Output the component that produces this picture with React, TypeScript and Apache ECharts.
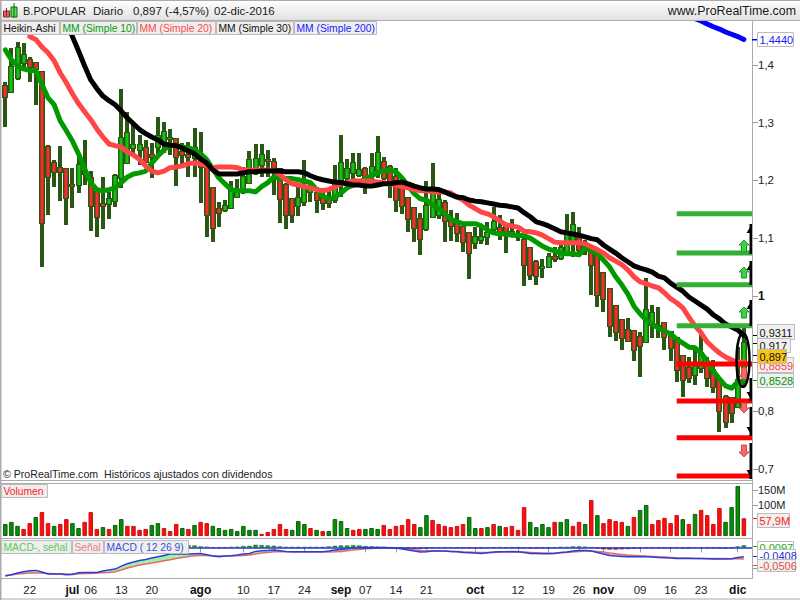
import React, { useEffect, useRef } from "react";
import * as echarts from "echarts";

const FONT = '"Liberation Sans", Arial, sans-serif';

const monthDays: [string, number[]][] = [
  ["06", [16, 17, 20, 21, 22, 23, 24, 27, 28, 29, 30]],
  ["07", [1, 4, 5, 6, 7, 8, 11, 12, 13, 14, 15, 18, 19, 20, 21, 22, 25, 26, 27, 28, 29]],
  ["08", [1, 2, 3, 4, 5, 8, 9, 10, 11, 12, 15, 16, 17, 18, 19, 22, 23, 24, 25, 26, 29, 30, 31]],
  ["09", [1, 2, 5, 6, 7, 8, 9, 12, 13, 14, 15, 16, 19, 20, 21, 22, 23, 26, 27, 28, 29, 30]],
  ["10", [3, 4, 5, 6, 7, 10, 11, 12, 13, 14, 17, 18, 19, 20, 21, 24, 25, 26, 27, 28, 31]],
  ["11", [1, 2, 3, 4, 7, 8, 9, 10, 11, 14, 15, 16, 17, 18, 21, 22, 23, 24, 25, 28, 29, 30]],
  ["12", [1, 2]],
];
const categories: string[] = monthDays.flatMap(([m, ds]) =>
  ds.map((d) => `2016-${m}-${String(d).padStart(2, "0")}`)
);
categories.push("");

const tickDates = ["2016-06-22", "2016-07-01", "2016-07-06", "2016-07-13", "2016-07-20", "2016-08-01", "2016-08-10", "2016-08-17", "2016-08-24", "2016-09-01", "2016-09-07", "2016-09-14", "2016-09-21", "2016-10-03", "2016-10-12", "2016-10-19", "2016-10-26", "2016-11-01", "2016-11-09", "2016-11-16", "2016-11-23", "2016-12-01"];
const tickLabels = ["22", "jul", "06", "13", "20", "ago", "10", "17", "24", "sep", "07", "14", "21", "oct", "12", "19", "26", "nov", "09", "16", "23", "dic"];

const haOpen = [
  1.364, 1.353, 1.378, 1.404, 1.409, 1.404, 1.388, 1.258, 1.230, 1.222,
  1.220, 1.192, 1.192, 1.211, 1.204, 1.180, 1.159, 1.159, 1.164, 1.204,
  1.230, 1.256, 1.253, 1.256, 1.244, 1.258, 1.267, 1.272, 1.272, 1.249,
  1.244, 1.239, 1.244, 1.222, 1.187, 1.151, 1.149, 1.152, 1.171, 1.185,
  1.196, 1.222, 1.227, 1.236, 1.232, 1.220, 1.192, 1.168, 1.156, 1.163,
  1.180, 1.178, 1.171, 1.166, 1.166, 1.201, 1.204, 1.213, 1.209, 1.220,
  1.213, 1.218, 1.232, 1.223, 1.206, 1.187, 1.170, 1.152, 1.133, 1.116,
  1.137, 1.140, 1.161, 1.132, 1.126, 1.119, 1.109, 1.092, 1.097, 1.102,
  1.116, 1.118, 1.119, 1.111, 1.102, 1.097, 1.083, 1.059, 1.048, 1.050,
  1.067, 1.066, 1.076, 1.092, 1.102, 1.092, 1.080, 1.071, 1.040, 1.012,
  0.982, 0.958, 0.941, 0.939, 0.929, 0.920, 0.950, 0.944, 0.953, 0.937,
  0.927, 0.896, 0.875, 0.863, 0.875, 0.880, 0.872, 0.854, 0.825, 0.823,
  0.807, 0.875,
];
const haClose = [
  1.345, 1.397, 1.430, 1.417, 1.397, 1.392, 1.126, 1.206, 1.215, 1.215,
  1.170, 1.190, 1.227, 1.216, 1.156, 1.137, 1.156, 1.168, 1.208, 1.274,
  1.282, 1.261, 1.261, 1.232, 1.241, 1.277, 1.284, 1.274, 1.241, 1.244,
  1.241, 1.256, 1.223, 1.140, 1.118, 1.144, 1.156, 1.182, 1.178, 1.206,
  1.236, 1.237, 1.244, 1.234, 1.222, 1.168, 1.140, 1.140, 1.170, 1.187,
  1.189, 1.166, 1.161, 1.161, 1.196, 1.230, 1.220, 1.230, 1.218, 1.203,
  1.223, 1.248, 1.204, 1.196, 1.166, 1.156, 1.133, 1.118, 1.099, 1.156,
  1.178, 1.166, 1.130, 1.121, 1.109, 1.093, 1.074, 1.102, 1.102, 1.109,
  1.128, 1.105, 1.105, 1.105, 1.107, 1.054, 1.036, 1.035, 1.050, 1.067,
  1.064, 1.083, 1.105, 1.123, 1.080, 1.080, 1.054, 1.002, 0.995, 0.948,
  0.937, 0.927, 0.922, 0.906, 0.913, 0.976, 0.970, 0.948, 0.929, 0.910,
  0.872, 0.854, 0.858, 0.884, 0.901, 0.858, 0.842, 0.801, 0.781, 0.797,
  0.854, 0.918,
];
const haLow = [
  1.293, 1.352, 1.374, 1.392, 1.371, 1.331, 1.050, 1.140, 1.189, 1.164,
  1.123, 1.152, 1.178, 1.192, 1.112, 1.102, 1.116, 1.133, 1.154, 1.187,
  1.230, 1.244, 1.227, 1.230, 1.204, 1.241, 1.248, 1.244, 1.190, 1.227,
  1.206, 1.206, 1.161, 1.102, 1.093, 1.119, 1.145, 1.152, 1.170, 1.177,
  1.196, 1.209, 1.206, 1.206, 1.175, 1.126, 1.116, 1.126, 1.138, 1.157,
  1.163, 1.144, 1.149, 1.152, 1.161, 1.171, 1.184, 1.192, 1.206, 1.177,
  1.196, 1.204, 1.201, 1.170, 1.145, 1.142, 1.111, 1.093, 1.071, 1.112,
  1.135, 1.133, 1.093, 1.095, 1.093, 1.076, 1.029, 1.081, 1.090, 1.088,
  1.105, 1.097, 1.074, 1.102, 1.095, 1.017, 1.028, 1.019, 1.031, 1.048,
  1.059, 1.062, 1.071, 1.067, 1.074, 1.071, 1.002, 0.981, 0.972, 0.929,
  0.922, 0.906, 0.920, 0.887, 0.859, 0.918, 0.927, 0.927, 0.906, 0.887,
  0.851, 0.825, 0.849, 0.846, 0.866, 0.842, 0.832, 0.764, 0.771, 0.780,
  0.807, 0.842,
];
const haHigh = [
  1.371, 1.430, 1.440, 1.438, 1.414, 1.404, 1.388, 1.261, 1.236, 1.260,
  1.222, 1.222, 1.244, 1.270, 1.216, 1.184, 1.206, 1.180, 1.211, 1.359,
  1.319, 1.300, 1.279, 1.270, 1.265, 1.310, 1.301, 1.289, 1.274, 1.265,
  1.267, 1.291, 1.284, 1.227, 1.189, 1.163, 1.166, 1.199, 1.203, 1.223,
  1.251, 1.263, 1.263, 1.253, 1.239, 1.222, 1.196, 1.170, 1.192, 1.236,
  1.197, 1.189, 1.187, 1.187, 1.227, 1.279, 1.237, 1.248, 1.248, 1.223,
  1.248, 1.277, 1.241, 1.227, 1.222, 1.197, 1.171, 1.154, 1.144, 1.199,
  1.230, 1.178, 1.166, 1.149, 1.144, 1.119, 1.111, 1.119, 1.119, 1.128,
  1.154, 1.140, 1.119, 1.133, 1.114, 1.102, 1.085, 1.062, 1.064, 1.074,
  1.085, 1.093, 1.142, 1.145, 1.119, 1.097, 1.083, 1.074, 1.041, 1.014,
  0.984, 0.960, 0.962, 0.941, 0.937, 1.031, 0.984, 0.981, 0.955, 0.939,
  0.929, 0.898, 0.894, 0.906, 0.932, 0.894, 0.889, 0.858, 0.828, 0.825,
  0.911, 0.944,
];

const mm10 = [
  1.426, 1.409, 1.398, 1.393, 1.390, 1.390, 1.366, 1.343, 1.331, 1.303,
  1.286, 1.268, 1.246, 1.220, 1.196, 1.184, 1.182, 1.184, 1.187, 1.196,
  1.206, 1.211, 1.213, 1.216, 1.230, 1.242, 1.253, 1.261, 1.260, 1.258,
  1.256, 1.253, 1.246, 1.236, 1.220, 1.204, 1.194, 1.184, 1.182, 1.182,
  1.182, 1.180, 1.189, 1.196, 1.206, 1.203, 1.203, 1.203, 1.201, 1.199,
  1.196, 1.184, 1.173, 1.168, 1.171, 1.178, 1.187, 1.192, 1.197, 1.203,
  1.208, 1.213, 1.216, 1.218, 1.215, 1.204, 1.190, 1.177, 1.168, 1.166,
  1.157, 1.151, 1.142, 1.133, 1.128, 1.125, 1.125, 1.125, 1.121, 1.114,
  1.109, 1.107, 1.107, 1.105, 1.105, 1.104, 1.100, 1.093, 1.086, 1.081,
  1.078, 1.074, 1.073, 1.073, 1.071, 1.083, 1.078, 1.073, 1.062, 1.050,
  1.033, 1.019, 1.003, 0.982, 0.969, 0.958, 0.951, 0.944, 0.939, 0.934,
  0.925, 0.918, 0.911, 0.910, 0.901, 0.887, 0.870, 0.856, 0.844, 0.840,
  0.851, 0.8528,
];
const mm20 = [
  null, null, null, null, 1.449, 1.444, 1.431, 1.421, 1.407, 1.386,
  1.369, 1.350, 1.333, 1.319, 1.305, 1.289, 1.275, 1.263, 1.260, 1.258,
  1.249, 1.244, 1.236, 1.225, 1.216, 1.213, 1.216, 1.222, 1.223, 1.225,
  1.229, 1.230, 1.229, 1.225, 1.222, 1.223, 1.223, 1.223, 1.222, 1.218,
  1.218, 1.218, 1.218, 1.218, 1.216, 1.210, 1.201, 1.194, 1.192, 1.189,
  1.187, 1.184, 1.182, 1.184, 1.189, 1.194, 1.196, 1.199, 1.199, 1.199,
  1.199, 1.197, 1.196, 1.194, 1.192, 1.189, 1.187, 1.184, 1.182, 1.182,
  1.180, 1.180, 1.180, 1.178, 1.171, 1.166, 1.157, 1.151, 1.145, 1.142,
  1.137, 1.130, 1.123, 1.121, 1.119, 1.112, 1.111, 1.109, 1.105, 1.099,
  1.093, 1.092, 1.092, 1.092, 1.092, 1.090, 1.085, 1.080, 1.074, 1.066,
  1.060, 1.054, 1.045, 1.033, 1.024, 1.021, 1.017, 1.014, 1.005, 0.995,
  0.988, 0.979, 0.963, 0.948, 0.936, 0.920, 0.910, 0.901, 0.894, 0.889,
  0.885, 0.8859,
];
const mm30 = [
  null, null, null, null, null, null, null, null, null, null,
  1.475, 1.449, 1.424, 1.398, 1.374, 1.359, 1.346, 1.338, 1.331, 1.320,
  1.308, 1.298, 1.288, 1.281, 1.275, 1.270, 1.263, 1.261, 1.260, 1.256,
  1.251, 1.246, 1.237, 1.230, 1.218, 1.211, 1.211, 1.211, 1.211, 1.213,
  1.215, 1.215, 1.216, 1.216, 1.216, 1.216, 1.215, 1.215, 1.215, 1.213,
  1.208, 1.204, 1.201, 1.199, 1.197, 1.196, 1.194, 1.192, 1.192, 1.190,
  1.190, 1.192, 1.194, 1.194, 1.196, 1.197, 1.194, 1.190, 1.187, 1.185,
  1.185, 1.184, 1.180, 1.175, 1.171, 1.170, 1.166, 1.164, 1.163, 1.161,
  1.159, 1.157, 1.156, 1.154, 1.152, 1.144, 1.137, 1.128, 1.125, 1.121,
  1.116, 1.111, 1.109, 1.107, 1.105, 1.102, 1.099, 1.097, 1.088, 1.081,
  1.074, 1.066, 1.059, 1.052, 1.048, 1.045, 1.041, 1.034, 1.031, 1.022,
  1.015, 1.008, 0.998, 0.991, 0.984, 0.977, 0.967, 0.960, 0.951, 0.946,
  0.941, 0.9311,
];
const mm200Tail = [1.480, 1.476, 1.471, 1.466, 1.462, 1.457, 1.453, 1.449, 1.444];
const mm200 = [...new Array(122 - mm200Tail.length).fill(null), ...mm200Tail];

const upLevels = [1.142, 1.074, 1.019, 0.948];
const downLevels = [0.882, 0.818, 0.754, 0.688];

const volume = [
  39, 46, 33, 23, 42, 62, 78, 42, 33, 39,
  55, 42, 26, 46, 78, 23, 29, 23, 36, 55,
  33, 33, 20, 23, 36, 42, 26, 16, 39, 26,
  23, 36, 46, 42, 33, 26, 20, 23, 16, 33,
  20, 20, 7, 13, 23, 39, 23, 20, 49, 39,
  26, 20, 16, 16, 55, 49, 26, 20, 23, 23,
  26, 23, 36, 23, 33, 36, 55, 39, 29, 68,
  52, 39, 33, 29, 33, 39, 62, 26, 26, 29,
  39, 33, 29, 33, 20, 94, 46, 29, 39, 29,
  46, 46, 55, 33, 46, 39, 117, 68, 42, 55,
  49, 46, 33, 62, 85, 101, 39, 52, 59, 42,
  68, 55, 39, 72, 85, 68, 39, 91, 46, 94,
  163, 57.9,
];
const volumeUp = [
  1, 1, 1, 0, 0, 1, 0, 0, 1, 0,
  0, 1, 1, 0, 0, 0, 1, 0, 1, 1,
  0, 0, 0, 0, 1, 1, 0, 0, 0, 1,
  0, 1, 0, 0, 1, 1, 1, 1, 1, 1,
  1, 1, 0, 0, 0, 0, 0, 1, 1, 1,
  0, 1, 0, 1, 1, 1, 1, 0, 0, 1,
  1, 1, 0, 0, 0, 0, 0, 0, 1, 1,
  0, 0, 0, 0, 0, 0, 1, 1, 0, 1,
  0, 1, 0, 0, 0, 0, 1, 1, 1, 1,
  0, 1, 1, 0, 0, 1, 0, 1, 0, 0,
  0, 0, 1, 0, 1, 1, 0, 0, 0, 0,
  0, 1, 0, 1, 0, 0, 0, 0, 1, 1,
  1, 0,
];

const macdLine = [
  -0.1256, -0.1197, -0.1124, -0.1066, -0.1022, -0.1007, -0.108, -0.1168, -0.1168, -0.1168,
  -0.1197, -0.1183, -0.111, -0.1095, -0.1095, -0.1095, -0.1037, -0.0993, -0.0949, -0.0818,
  -0.0715, -0.0642, -0.0569, -0.0526, -0.0467, -0.0409, -0.035, -0.0292, -0.0292, -0.0292,
  -0.0292, -0.0277, -0.0263, -0.0321, -0.038, -0.0409, -0.038, -0.0365, -0.0336, -0.0292,
  -0.0263, -0.0175, -0.0146, -0.0131, -0.0117, -0.0146, -0.0175, -0.019, -0.019, -0.019,
  -0.019, -0.019, -0.019, -0.0161, -0.0117, -0.0088, -0.0058, -0.0015, -0.0005, -0.0005,
  -0.0005, -0.0005, -0.0005, -0.0015, -0.0029, -0.0073, -0.0117, -0.0161, -0.0204, -0.019,
  -0.0161, -0.0161, -0.0161, -0.0175, -0.019, -0.0219, -0.0234, -0.0248, -0.0263, -0.0234,
  -0.0204, -0.019, -0.019, -0.0175, -0.019, -0.0219, -0.0263, -0.0263, -0.0277, -0.0277,
  -0.0263, -0.0219, -0.0204, -0.0161, -0.0131, -0.0131, -0.0161, -0.0219, -0.0292, -0.035,
  -0.038, -0.0394, -0.0409, -0.0409, -0.0409, -0.0409, -0.0423, -0.0438, -0.0453, -0.0467,
  -0.0482, -0.0482, -0.0482, -0.0482, -0.0482, -0.0496, -0.0511, -0.0511, -0.0511, -0.0496,
  -0.0438, -0.0408,
];
const signalLine = [
  -0.1226, -0.1197, -0.1168, -0.1139, -0.1124, -0.1124, -0.1124, -0.1139, -0.1153, -0.1153,
  -0.1168, -0.1168, -0.1153, -0.1139, -0.1139, -0.1124, -0.111, -0.1095, -0.1066, -0.0993,
  -0.0905, -0.0832, -0.0774, -0.073, -0.0686, -0.0642, -0.0584, -0.054, -0.0482, -0.0438,
  -0.0394, -0.0365, -0.035, -0.035, -0.0365, -0.038, -0.038, -0.038, -0.0365, -0.035,
  -0.0336, -0.0292, -0.0248, -0.0219, -0.019, -0.019, -0.019, -0.0204, -0.0204, -0.0204,
  -0.0204, -0.0204, -0.0204, -0.0204, -0.019, -0.0175, -0.0146, -0.0117, -0.0088, -0.0058,
  -0.0044, -0.0029, -0.0015, -0.0015, -0.0015, -0.0029, -0.0058, -0.0102, -0.0131, -0.0146,
  -0.0161, -0.0161, -0.0161, -0.0175, -0.0175, -0.019, -0.0204, -0.0219, -0.0219, -0.0219,
  -0.0219, -0.0204, -0.0204, -0.0204, -0.0204, -0.0204, -0.0219, -0.0234, -0.0248, -0.0248,
  -0.0248, -0.0234, -0.0219, -0.0204, -0.0175, -0.0161, -0.0161, -0.0175, -0.0204, -0.0248,
  -0.0277, -0.0307, -0.0336, -0.035, -0.0365, -0.038, -0.0394, -0.0409, -0.0423, -0.0438,
  -0.0453, -0.0467, -0.0467, -0.0482, -0.0482, -0.0482, -0.0482, -0.0482, -0.0482, -0.0496,
  -0.0496, -0.0506,
];
const macdHist = [
  -0.003, 0, 0.0044, 0.0073, 0.0102, 0.0117, 0.0044, -0.0029, -0.0015, -0.0015,
  -0.0029, -0.0015, 0.0044, 0.0044, 0.0044, 0.0029, 0.0073, 0.0102, 0.0117, 0.0175,
  0.019, 0.019, 0.0205, 0.0204, 0.0219, 0.0233, 0.0234, 0.0248, 0.019, 0.0146,
  0.0102, 0.0088, 0.0044, 0.0029, -0.0015, -0.0029, -0.0015, 0.0015, 0.0029, 0.0058,
  0.0073, 0.0117, 0.0102, 0.0088, 0.0073, 0.0044, 0.0015, 0.0014, 0.0014, 0.0014,
  0.0014, 0.0014, 0.0014, 0.0043, 0.0073, 0.0087, 0.0088, 0.0102, 0.0088, 0.0058,
  0.0044, 0.0029, 0.0015, 0, -0.0014, -0.0044, -0.0059, -0.0059, -0.0073, -0.0044,
  -0.0015, -0.0015, -0.0015, -0.0015, -0.0015, -0.0029, -0.0029, -0.0029, -0.0044, -0.0015,
  0, 0, 0, 0, 0, -0.0015, -0.0044, -0.0044, -0.0029, -0.0029,
  -0.0015, 0.0015, 0.0015, 0.0044, 0.0044, 0.003, 0, -0.0044, -0.0088, -0.0102,
  -0.0103, -0.0087, -0.0073, -0.0059, -0.0044, -0.0029, -0.0029, -0.0029, -0.003, -0.003,
  -0.003, -0.0044, -0.0044, -0.0015, -0.0015, -0.0015, -0.0029, -0.0044, -0.0044, -0.0015,
  0.0044, 0.0097,
];

const priceTicks = [0.7, 0.8, 1, 1.1, 1.2, 1.3, 1.4];
const volumeTicks = [100, 150];

const GREY = "#ababab";

function box(x: number, y: number, w: number, h: number, text: string, color: string, z: number, fill = "#f0f0f0", size = 11) {
  return [
    { type: "rect", z, silent: true, shape: { x: x + 0.5, y: y + 0.5, width: w, height: h }, style: { fill, stroke: "#bcbcbc", lineWidth: 1 } },
    { type: "text", z: z + 1, silent: true, x: x + 2.5, y: y + h / 2 + 1, style: { text, fill: color, font: `${size}px ${FONT}`, textVerticalAlign: "middle", textAlign: "left" } },
  ];
}
function rect(x: number, y: number, w: number, h: number, fill: string, z = 20, stroke?: string) {
  return { type: "rect", z, silent: true, shape: { x, y, width: w, height: h }, style: { fill, stroke: stroke ?? undefined } };
}
function label(x: number, y: number, text: string, color: string, size: number, z = 30, align = "left") {
  return { type: "text", z, silent: true, x, y, style: { text, fill: color, font: `${size}px ${FONT}`, textVerticalAlign: "middle", textAlign: align } };
}
function blockArrow(t: number, b: number, up: boolean) {
  const c = 744;
  const h = up ? t + 5 : b - 5;
  const pts = up
    ? [[c, t], [c + 5, h], [c + 2.5, h], [c + 2.5, b], [c - 2.5, b], [c - 2.5, h], [c - 5, h]]
    : [[c, b], [c + 5, h], [c + 2.5, h], [c + 2.5, t], [c - 2.5, t], [c - 2.5, h], [c - 5, h]];
  return {
    type: "polygon", z: 24, silent: true, shape: { points: pts },
    style: up ? { fill: "#3fd04a", stroke: "#1e9a2a", lineWidth: 1 } : { fill: "#f06a6a", stroke: "#d84a4a", lineWidth: 1 },
  };
}
function blackArrow(t: number, b: number, up: boolean) {
  const tri = up
    ? [[752, t], [752, t + 9], [746.5, t + 9]]
    : [[752, b], [752, b - 9], [746.5, b - 9]];
  return [
    rect(749.5, t, 2.5, b - t, "#000", 23),
    { type: "polygon", z: 23, silent: true, shape: { points: tri }, style: { fill: "#000" } },
  ];
}

function buildGraphics() {
  const gradient = new echarts.graphic.LinearGradient(0, 0, 0, 1, [
    { offset: 0, color: "#ffffff" },
    { offset: 1, color: "#e2e2e2" },
  ]);
  const legendSize = 10.3;
  const el: any[] = [
    // frame
    { type: "rect", z: 15, silent: true, shape: { x: 0, y: 0, width: 800, height: 20 }, style: { fill: gradient } },
    rect(0, 0, 800, 1, GREY, 16),
    rect(0, 20, 800, 1, GREY, 16),
    rect(0, 0, 1.5, 600, GREY, 16),
    rect(0, 480, 753, 1, GREY, 16),
    rect(0, 483, 753, 1, GREY, 16),
    rect(0, 538, 753, 1, GREY, 16),
    rect(0, 578, 753, 1, GREY, 16),
    rect(0, 598.5, 800, 1, GREY, 16),
    rect(752, 20, 1, 559, GREY, 16),
    rect(0, 481, 753, 2, "#ffffff", 15),
    // header icon
    rect(3.5, 11, 6, 6, "#e86060", 17, "#803030"),
    rect(6, 8, 1, 9, "#803030", 17),
    rect(11, 7, 6, 10, "#50e050", 17, "#206020"),
    rect(13.5, 3, 1, 15, "#206020", 17),
    // header
    label(23, 11, "B.POPULAR", "#1a1a1a", 11, 18),
    label(93, 11, "Diario", "#1a1a1a", 11.5, 18),
    label(133, 11, "0,897 (-4,57%)", "#1a1a1a", 11.5, 18),
    label(214, 11, "02-dic-2016", "#1a1a1a", 11.5, 18),
    label(796, 11, "www.ProRealTime.com", "#1a1a1a", 12.4, 18, "right"),
    // indicator legends
    ...box(1, 21, 58, 13, "Heikin-Ashi", "#111", 26, "#eeeeee", legendSize),
    ...box(60, 21, 76, 13, "MM (Simple 10)", "#0a9a0a", 26, "#eeeeee", legendSize),
    ...box(137, 21, 78, 13, "MM (Simple 20)", "#ff4a4a", 26, "#eeeeee", legendSize),
    ...box(216, 21, 77, 13, "MM (Simple 30)", "#111", 26, "#eeeeee", legendSize),
    ...box(294, 21, 82, 13, "MM (Simple 200)", "#1a1aff", 26, "#eeeeee", legendSize),
    label(3, 474, "© ProRealTime.com  Históricos ajustados con dividendos", "#222", 10.6, 27),
    ...box(1, 484, 46, 13, "Volumen", "#ff2020", 26, "#eeeeee", legendSize),
    ...box(1, 540, 70, 13, "MACD-, señal", "#55cc55", 26, "#eeeeee", legendSize),
    ...box(72, 540, 31, 13, "Señal", "#e88080", 26, "#eeeeee", legendSize),
    ...box(104, 540, 84, 13, "MACD ( 12 26 9)", "#3a4fe0", 26, "#eeeeee", legendSize),
    // level arrows
    ...blackArrow(224, 254, true),
    ...blackArrow(261, 285, true),
    ...blackArrow(300, 326, true),
    ...blackArrow(378, 401, false),
    ...blackArrow(407, 436, false),
    ...blackArrow(443, 479, false),
    blockArrow(240, 252, true),
    blockArrow(267, 278, true),
    blockArrow(307, 318, true),
    blockArrow(368, 380, false),
    blockArrow(403, 413, false),
    blockArrow(445, 457, false),
    { type: "ellipse", z: 25, silent: true, shape: { cx: 743, cy: 360, rx: 6.5, ry: 27 }, style: { fill: "none", stroke: "#000", lineWidth: 2.5 } },
    // floating value labels
    rect(752, 39, 5, 1.5, "#0000ff", 30),
    ...box(757, 32, 36, 14, "1,4440", "#1a1aff", 31, "#ffffff"),
    rect(753, 335, 5, 1, "#000", 30),
    ...box(757, 324, 37, 15, "0,9311", "#111", 31),
    rect(753, 343, 5, 1, "#000", 30),
    ...box(757, 338, 33, 14, "0,917", "#111", 33),
    rect(753, 355, 5, 1, "#000", 30),
    rect(753, 362, 5, 1, "#ff4040", 30),
    ...box(757, 357, 36, 15, "0,8859", "#ff4040", 35),
    ...box(757, 349, 29, 14, "0,897", "#111", 37, "#f5c518"),
    rect(753, 380, 5, 1, "#009900", 30),
    ...box(757, 373, 36, 14, "0,8528", "#009900", 39),
    rect(753, 518, 5, 1, "#ff2020", 30),
    ...box(757, 513, 32, 14, "57,9M", "#ff2020", 41),
    rect(753, 546, 5, 1, "#22aa22", 30),
    ...box(757, 541, 36, 12, "0,0097", "#22aa22", 43, "#ffffff"),
    rect(753, 556, 5, 1, "#2030e0", 30),
    ...box(757, 549, 38, 12, "-0,0408", "#2030e0", 45, "#ffffff"),
    rect(753, 565, 5, 1, "#e05050", 30),
    ...box(757, 559, 38, 12, "-0,0506", "#e05050", 47),
  ];
  return el;
}

function candleItem(params: any, api: any) {
  const x = Math.round(api.coord([api.value(0), 0])[0]);
  const yO = api.coord([0, api.value(1)])[1];
  const yC = api.coord([0, api.value(2)])[1];
  const yL = api.coord([0, api.value(3)])[1];
  const yH = api.coord([0, api.value(4)])[1];
  const up = api.value(2) >= api.value(1);
  const top = Math.round(Math.min(yO, yC));
  const bottom = Math.max(top + 1, Math.round(Math.max(yO, yC)));
  const dark = "#2a5814";
  const fill = up ? "#10c410" : "#ff2a2a";
  return {
    type: "group",
    children: [
      { type: "rect", shape: { x: x - 2, y: Math.round(yH), width: 4, height: Math.round(yL - yH) }, style: { fill: dark } },
      { type: "rect", shape: { x: x - 3, y: top - 1, width: 6, height: bottom - top + 2 }, style: { fill: dark } },
      { type: "rect", shape: { x: x - 1.5, y: top, width: 3, height: bottom - top }, style: { fill } },
    ],
  };
}

function levelItem(color: string) {
  return (params: any, api: any) => {
    const start = api.coord([api.value(0), api.value(1)]);
    const right = params.coordSys.x + params.coordSys.width;
    return {
      type: "rect",
      shape: { x: start[0], y: start[1] - 2.5, width: right - start[0], height: 5 },
      style: { fill: color },
    };
  };
}

function macdFill(params: any, api: any) {
  const i = api.value(0);
  if (i >= macdLine.length - 1) return null;
  const a1 = api.coord([i, macdLine[i]]);
  const b1 = api.coord([i + 1, macdLine[i + 1]]);
  const a2 = api.coord([i, signalLine[i]]);
  const b2 = api.coord([i + 1, signalLine[i + 1]]);
  return {
    type: "polygon",
    shape: { points: [a1, b1, b2, a2] },
    style: { fill: macdLine[i] >= signalLine[i] ? "#a5eca5" : "#f2a8a8" },
  };
}

const maLine = (name: string, data: any[], color: string, width: number, z: number) => ({
  name,
  type: "line",
  xAxisIndex: 0,
  yAxisIndex: 0,
  data,
  showSymbol: false,
  symbol: "none",
  connectNulls: false,
  z,
  silent: true,
  lineStyle: { color, width, cap: "round", join: "round" },
});

const indices = categories.slice(0, 122).map((_, i) => i);

export default function App() {
  const ref = useRef<HTMLDivElement>(null);
  useEffect(() => {
    if (!ref.current) return;
    const chart = echarts.init(ref.current, undefined, { renderer: "svg" });
    const xCommon = { type: "category", data: categories, boundaryGap: true, axisLine: { show: false }, splitLine: { show: false } };
    const gridLeft = 2.25;
    const gridWidth = 750.75;
    chart.setOption({
      animation: false,
      backgroundColor: "#ffffff",
      textStyle: { fontFamily: FONT },
      grid: [
        { left: gridLeft, width: gridWidth, top: 21, height: 459 },
        { left: gridLeft, width: gridWidth, top: 483, height: 53 },
        { left: gridLeft, width: gridWidth, top: 540, height: 38 },
      ],
      xAxis: [
        { ...xCommon, gridIndex: 0, axisTick: { show: false }, axisLabel: { show: false } },
        { ...xCommon, gridIndex: 1, axisTick: { show: false }, axisLabel: { show: false } },
        {
          ...xCommon,
          gridIndex: 2,
          axisTick: { show: true, alignWithLabel: true, length: 5, lineStyle: { color: "#999" }, interval: (_: number, v: string) => tickDates.includes(v) },
          axisLabel: {
            show: true,
            margin: 6,
            fontSize: 11.5,
            color: "#222",
            fontFamily: FONT,
            hideOverlap: false,
            interval: (_: number, v: string) => tickDates.includes(v),
            formatter: (v: string) => {
              const t = tickLabels[tickDates.indexOf(v)] ?? "";
              return /^\d/.test(t) ? t : `{b|${t}}`;
            },
            rich: { b: { fontWeight: "bold", fontSize: 12, fontFamily: FONT, color: "#111" } },
          },
        },
      ],
      yAxis: [
        {
          type: "value",
          gridIndex: 0,
          position: "right",
          min: 0.681,
          max: 1.476,
          axisLine: { show: false },
          splitLine: { show: false },
          axisTick: { show: true, length: 5, lineStyle: { color: "#999" }, customValues: priceTicks },
          axisLabel: {
            margin: 5,
            fontSize: 11.5,
            color: "#222",
            fontFamily: FONT,
            customValues: priceTicks,
            formatter: (v: number) => (v === 1 ? "{b|1}" : String(v).replace(".", ",")),
            rich: { b: { fontWeight: "bold", fontSize: 12, color: "#111", fontFamily: FONT } },
          },
        },
        {
          type: "value",
          gridIndex: 1,
          position: "right",
          min: 0,
          max: 172.6,
          axisLine: { show: false },
          splitLine: { show: false },
          axisTick: { show: true, length: 5, lineStyle: { color: "#999" }, customValues: volumeTicks },
          axisLabel: { margin: 5, fontSize: 11, color: "#222", fontFamily: FONT, customValues: volumeTicks, formatter: (v: number) => `${v}M` },
        },
        {
          type: "value",
          gridIndex: 2,
          position: "right",
          min: -0.134,
          max: 0.0325,
          axisLine: { show: false },
          splitLine: { show: false },
          axisTick: { show: true, length: 5, lineStyle: { color: "#999" }, customValues: [-0.09] },
          axisLabel: { show: false },
        },
      ],
      series: [
        {
          name: "Heikin-Ashi",
          type: "custom",
          xAxisIndex: 0,
          yAxisIndex: 0,
          z: 2,
          silent: true,
          clip: true,
          renderItem: candleItem,
          encode: { x: 0, y: [1, 2, 3, 4] },
          data: indices.map((i) => [i, haOpen[i], haClose[i], haLow[i], haHigh[i]]),
        },
        maLine("MM (Simple 200)", mm200, "#0000ff", 5, 3),
        maLine("MM (Simple 10)", mm10, "#009a00", 5, 4),
        maLine("MM (Simple 20)", mm20, "#ff4545", 5, 5),
        maLine("MM (Simple 30)", mm30, "#000000", 5, 6),
        {
          name: "Niveles +",
          type: "custom",
          xAxisIndex: 0,
          yAxisIndex: 0,
          z: 7,
          silent: true,
          clip: true,
          renderItem: levelItem("#35b035"),
          encode: { x: 0, y: 1 },
          data: upLevels.map((p) => [110, p]),
        },
        {
          name: "Niveles -",
          type: "custom",
          xAxisIndex: 0,
          yAxisIndex: 0,
          z: 7,
          silent: true,
          clip: true,
          renderItem: levelItem("#ff0000"),
          encode: { x: 0, y: 1 },
          data: downLevels.map((p) => [110, p]),
        },
        {
          name: "Volumen",
          type: "bar",
          xAxisIndex: 1,
          yAxisIndex: 1,
          barWidth: 4.5,
          silent: true,
          data: volume.map((v, i) => ({
            value: v,
            itemStyle: volumeUp[i]
              ? { color: "#069006", borderColor: "#0a5f0a", borderWidth: 1 }
              : { color: "#ff0c0c", borderColor: "#c81414", borderWidth: 1 },
          })),
        },
        {
          name: "MACD-, señal",
          type: "bar",
          xAxisIndex: 2,
          yAxisIndex: 2,
          barWidth: 4.5,
          silent: true,
          z: 2,
          data: macdHist.map((v) => ({
            value: v,
            itemStyle: v >= 0
              ? { color: "#1ea01e", borderColor: "#1a7a1a", borderWidth: 0.5 }
              : { color: "#d05050", borderColor: "#a83030", borderWidth: 0.5 },
          })),
          markLine: {
            silent: true,
            symbol: "none",
            label: { show: false },
            lineStyle: { color: "#2233cc", width: 1.5, type: "solid" },
            data: [{ yAxis: 0 }],
          },
        },
        {
          name: "Relleno",
          type: "custom",
          xAxisIndex: 2,
          yAxisIndex: 2,
          z: 3,
          silent: true,
          renderItem: macdFill,
          encode: { x: 0 },
          data: indices.map((i) => [i]),
        },
        {
          name: "Señal",
          type: "line",
          xAxisIndex: 2,
          yAxisIndex: 2,
          data: signalLine,
          symbol: "none",
          showSymbol: false,
          silent: true,
          z: 4,
          lineStyle: { color: "#e46a6a", width: 1.5 },
        },
        {
          name: "MACD",
          type: "line",
          xAxisIndex: 2,
          yAxisIndex: 2,
          data: macdLine,
          symbol: "none",
          showSymbol: false,
          silent: true,
          z: 5,
          lineStyle: { color: "#2a3ed8", width: 1.5 },
        },
      ],
      graphic: { elements: buildGraphics() },
    });
    return () => chart.dispose();
  }, []);
  return <div ref={ref} style={{ position: "absolute", left: 0, top: 0, width: 800, height: 600 }} />;
}
